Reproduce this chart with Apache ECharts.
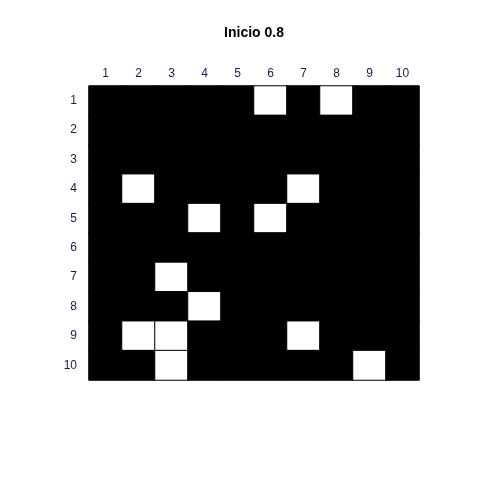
<!DOCTYPE html>
<html><head><meta charset="utf-8">
<script src="https://cdn.jsdelivr.net/npm/echarts@6/dist/echarts.min.js"></script>
<style>html,body{margin:0;padding:0;background:#fff}#c{width:480px;height:480px}</style>
</head><body><div id="c"></div>
<script>
const columns = ['1','2','3','4','5','6','7','8','9','10'];
const rows = ['1','2','3','4','5','6','7','8','9','10'];
// 1 = white (alive), 0 = black
const grid = [
  [0,0,0,0,0,1,0,1,0,0],
  [0,0,0,0,0,0,0,0,0,0],
  [0,0,0,0,0,0,0,0,0,0],
  [0,1,0,0,0,0,1,0,0,0],
  [0,0,0,1,0,1,0,0,0,0],
  [0,0,0,0,0,0,0,0,0,0],
  [0,0,1,0,0,0,0,0,0,0],
  [0,0,0,1,0,0,0,0,0,0],
  [0,1,1,0,0,0,1,0,0,0],
  [0,0,1,0,0,0,0,0,1,0]
];
const titleText = 'Inicio 0.8';

const data = [];
grid.forEach((r, ri) => r.forEach((v, ci) => data.push([ci, ri, v])));

const chart = echarts.init(document.getElementById('c'));
chart.setOption({
  animation: false,
  backgroundColor: '#ffffff',
  title: { text: titleText, left: 249, textAlign: 'center', top: 21,
    textStyle: { fontFamily: 'Liberation Sans, Arial', fontSize: 14, fontWeight: 'bold', color: '#000' } },
  grid: { left: 89, right: 61, top: 86, bottom: 100 },
  xAxis: { type: 'category', data: columns, position: 'top',
    axisLine: { show: false }, axisTick: { show: false }, splitLine: { show: false },
    axisLabel: { margin: 6, color: '#1a1a4a', fontFamily: 'Liberation Sans, Arial', fontSize: 12 } },
  yAxis: { type: 'category', data: rows, inverse: true,
    axisLine: { show: false }, axisTick: { show: false }, splitLine: { show: false },
    axisLabel: { margin: 12, color: '#1a1a4a', fontFamily: 'Liberation Sans, Arial', fontSize: 12 } },
  visualMap: { type: 'piecewise', show: false, dimension: 2,
    pieces: [ { value: 0, color: '#000000' }, { value: 1, color: '#ffffff' } ] },
  series: [{ type: 'heatmap', data: data,
    itemStyle: { borderColor: '#000000', borderWidth: 1 } }]
});
</script></body></html>
